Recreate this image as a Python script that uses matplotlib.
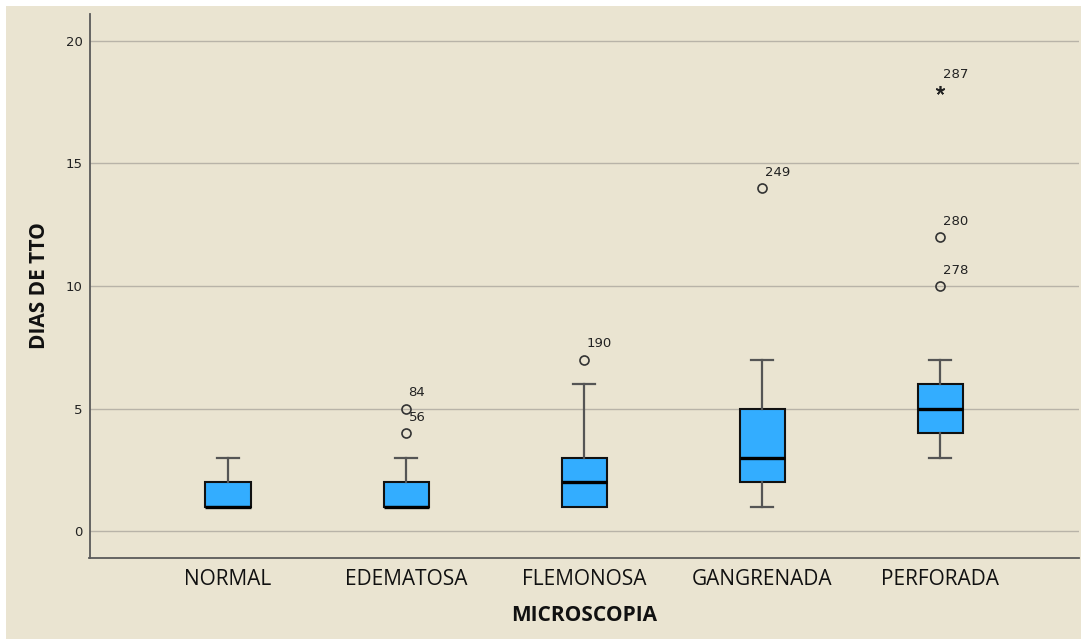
import matplotlib
matplotlib.use("Agg")
import matplotlib.pyplot as plt
from matplotlib.patches import Rectangle

# ---- data ----
categories = ["NORMAL", "EDEMATOSA", "FLEMONOSA", "GANGRENADA", "PERFORADA"]
q1 = [1, 1, 1, 2, 4]
median = [1, 1, 2, 3, 5]
q3 = [2, 2, 3, 5, 6]
whisker_low = [1, 1, 1, 1, 3]
whisker_high = [3, 3, 6, 7, 7]
outlier_values = [[], [4, 5], [7], [14], [10, 12]]
outlier_ids = [[], ["56", "84"], ["190"], ["249"], ["278", "280"]]
extreme_values = [[], [], [], [], [18]]
extreme_ids = [[], [], [], [], ["287"]]
y_ticks = [0, 5, 10, 15, 20]
x_title = "MICROSCOPIA"
y_title = "DIAS DE TTO"

BG = "#EAE4D1"
BOX = "#33ADFF"

fig = plt.figure(figsize=(10.81, 6.39), dpi=100, facecolor="white")
bgrect = Rectangle((6 / 1081, 0), 1, 1 - 6 / 639, transform=fig.transFigure,
                   facecolor=BG, edgecolor="none", zorder=-10)
fig.add_artist(bgrect)
ax = fig.add_axes([89.5 / 1081, (639 - 558) / 639, (1079 - 89.5) / 1081, (558 - 14) / 639])
ax.set_facecolor(BG)

positions = list(range(len(categories)))
stats = []
for i in positions:
    stats.append(dict(q1=q1[i], med=median[i], q3=q3[i], whislo=whisker_low[i],
                      whishi=whisker_high[i], fliers=[], label=categories[i]))

res = ax.bxp(stats, positions=positions, widths=0.253, capwidths=0.124, patch_artist=True,
             showfliers=False,
             boxprops=dict(facecolor=BOX, edgecolor="#111111", linewidth=1.5),
             medianprops=dict(color="#000000", linewidth=2.4),
             whiskerprops=dict(color="#555555", linewidth=1.6),
             capprops=dict(color="#555555", linewidth=1.6),
             zorder=3)
# hide caps/whiskers that collapse onto the box edge
for i in positions:
    if whisker_low[i] == q1[i]:
        res["caps"][2 * i].set_visible(False)
        res["whiskers"][2 * i].set_visible(False)
    if whisker_high[i] == q3[i]:
        res["caps"][2 * i + 1].set_visible(False)
        res["whiskers"][2 * i + 1].set_visible(False)

for i in positions:
    for v, lab in zip(outlier_values[i], outlier_ids[i]):
        ax.plot([i], [v], marker="o", markersize=6.5, markerfacecolor="none",
                markeredgecolor="#333333", markeredgewidth=1.2, linestyle="none", zorder=4)
        ax.annotate(lab, (i, v), xytext=(1.8, 6.5), textcoords="offset points",
                    ha="left", va="bottom", fontsize=9.5, color="#222222",
                    family="DejaVu Sans")
    for v, lab in zip(extreme_values[i], extreme_ids[i]):
        ax.plot([i], [v], marker=(5, 2, 0), markersize=6.5, markeredgewidth=1.2,
                color="#222222", linestyle="none", zorder=4)
        ax.annotate(lab, (i, v), xytext=(1.8, 6.5), textcoords="offset points",
                    ha="left", va="bottom", fontsize=9.5, color="#222222",
                    family="DejaVu Sans")

ax.set_xlim(-0.778, 4.78)
ax.set_ylim(-1.10, 21.1)
ax.set_yticks(y_ticks)
ax.set_yticklabels([str(t) for t in y_ticks], fontsize=9.5, color="#222222", family="DejaVu Sans")
ax.set_xticks(positions)
ax.set_xticklabels(categories, fontsize=15, color="#111111", family="Open Sans")
ax.tick_params(axis="both", length=0)
ax.tick_params(axis="y", pad=5)
ax.tick_params(axis="x", pad=8)
ax.yaxis.grid(True, color="#B8B3A8", linewidth=1.0, zorder=0)
ax.set_axisbelow(True)

for s in ["top", "right"]:
    ax.spines[s].set_visible(False)
for s in ["left", "bottom"]:
    ax.spines[s].set_color("#5A5A5A")
    ax.spines[s].set_linewidth(1.3)

ax.set_xlabel(x_title, fontsize=15, fontweight="bold", family="Open Sans", labelpad=11, color="#111111")
ax.set_ylabel(y_title, fontsize=15, fontweight="bold", family="Open Sans", labelpad=11, color="#111111")

fig.savefig("out.png", dpi=100, facecolor=fig.get_facecolor())
